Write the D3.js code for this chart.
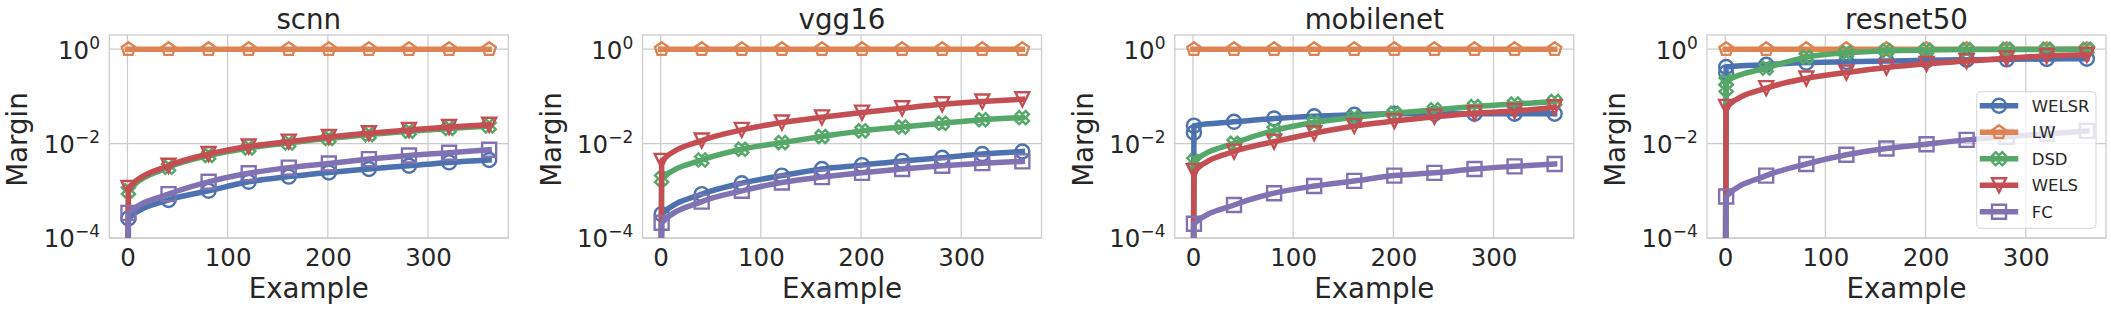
<!DOCTYPE html>
<html><head><meta charset="utf-8">
<script src="https://cdn.jsdelivr.net/npm/d3@7"></script>
<style>
body{margin:0;background:#fff;}
svg{display:block;}
</style>
</head><body>
<svg id="c" width="2111" height="311"></svg>
<script>
// ---------------- data ----------------
const panels = ["scnn", "vgg16", "mobilenet", "resnet50"];
const seriesNames = ["WELSR", "LW", "DSD", "WELS", "FC"];
const colors = ["#4C72B0", "#DD8452", "#55A868", "#C44E52", "#8172B3"];
const markerShapes = ["circle", "pentagon", "xfilled", "triangleDown", "square"];
const examples = [1, 41, 81, 121, 161, 201, 241, 281, 321, 361];
const xTicks = [0, 100, 200, 300];
const yTicks = [1, 1e-2, 1e-4];
const yTickExp = ["0", "\u22122", "\u22124"];

// scnn
const scnnWELSR = [2.6e-4, 6.4e-4, 1.0e-3, 1.55e-3, 2.0e-3, 2.45e-3, 2.9e-3, 3.4e-3, 4.0e-3, 4.5e-3];
const scnnLW    = [1, 1, 1, 1, 1, 1, 1, 1, 1, 1];
const scnnDSD   = [1.0e-3, 3.15e-3, 5.6e-3, 8.1e-3, 0.0103, 0.0129, 0.0155, 0.0183, 0.021, 0.0236];
const scnnWELS  = [1.15e-3, 3.4e-3, 6.0e-3, 8.7e-3, 0.011, 0.0138, 0.0166, 0.0195, 0.0224, 0.025];
const scnnFC    = [3.4e-4, 8.5e-4, 1.55e-3, 2.35e-3, 3.1e-3, 3.8e-3, 4.7e-3, 5.6e-3, 6.4e-3, 7.4e-3];
// vgg16
const vggWELSR = [3.2e-4, 8.5e-4, 1.45e-3, 2.1e-3, 2.9e-3, 3.5e-3, 4.3e-3, 5.0e-3, 6.0e-3, 6.8e-3];
const vggLW    = [1, 1, 1, 1, 1, 1, 1, 1, 1, 1];
const vggDSD   = [1.8e-3, 4.5e-3, 7.6e-3, 0.0105, 0.0141, 0.0186, 0.0225, 0.027, 0.032, 0.0355];
const vggWELS  = [4.3e-3, 0.0116, 0.0195, 0.0279, 0.036, 0.0454, 0.056, 0.068, 0.078, 0.087];
const vggFC    = [2.1e-4, 5.9e-4, 1.0e-3, 1.5e-3, 1.95e-3, 2.4e-3, 2.9e-3, 3.4e-3, 3.85e-3, 4.2e-3];
// mobilenet
const mobWELSR = [0.024, 0.029, 0.034, 0.038, 0.041, 0.043, 0.043, 0.043, 0.043, 0.043];
const mobLW    = [1, 1, 1, 1, 1, 1, 1, 1, 1, 1];
const mobDSD   = [4.2e-3, 0.0102, 0.019, 0.028, 0.036, 0.044, 0.052, 0.061, 0.069, 0.078];
const mobWELS  = [2.6e-3, 6.8e-3, 0.011, 0.0166, 0.0237, 0.030, 0.037, 0.044, 0.049, 0.059];
const mobFC    = [2.0e-4, 5.0e-4, 8.9e-4, 1.26e-3, 1.62e-3, 2.1e-3, 2.4e-3, 2.9e-3, 3.3e-3, 3.7e-3];
// resnet50
const resWELSR = [0.42, 0.47, 0.52, 0.54, 0.56, 0.58, 0.60, 0.61, 0.62, 0.63];
const resLW    = [1, 1, 1, 1, 1, 1, 1, 1, 1, 1];
const resDSD   = [0.21, 0.40, 0.68, 0.84, 0.93, 0.96, 0.98, 0.99, 0.99, 1.0];
const resWELS  = [0.06, 0.15, 0.24, 0.32, 0.41, 0.49, 0.56, 0.64, 0.72, 0.76];
const resFC    = [7.6e-4, 2.1e-3, 3.7e-3, 5.8e-3, 7.9e-3, 9.7e-3, 0.012, 0.014, 0.016, 0.0186];

// value of each line at example 0 (0 = margin 0, off the log axis)
const lineStart = [0, 1, 0, 0, 0];
// extra markers drawn at the first example
const extraMarkers = [
  {panel: 2, series: 0, value: 0.017},
  {panel: 3, series: 0, value: 0.32},
  {panel: 3, series: 2, value: 0.15}
];

const panelData = [
  [scnnWELSR, scnnLW, scnnDSD, scnnWELS, scnnFC],
  [vggWELSR, vggLW, vggDSD, vggWELS, vggFC],
  [mobWELSR, mobLW, mobDSD, mobWELS, mobFC],
  [resWELSR, resLW, resDSD, resWELS, resFC]
];

// ---------------- layout ----------------
const FONT = "DejaVu Sans";
const INK = "#262626";
const svg = d3.select("#c");
const lefts = [109.3, 642.5, 1174.8, 1707];
const W = 399, TOP = 35, BOTTOM = 238;
const MS = 14, MEW = 2.4, LW = 5.5;
const tickFont = 24.5, labelFont = 27.7, legendFont = 16.5;
const grid = "#cccccc";

function markerPath(shape, s) {
  const h = s / 2;
  if (shape === "circle") return `M${h},0A${h},${h} 0 1,1 ${-h},0A${h},${h} 0 1,1 ${h},0Z`;
  if (shape === "square") return `M${-h},${-h}h${s}v${s}h${-s}Z`;
  if (shape === "triangleDown") return `M0,${h}L${-h},${-h}L${h},${-h}Z`;
  if (shape === "pentagon") {
    const p = d3.range(5).map(k => {
      const a = (-90 + 72 * k) * Math.PI / 180;
      return [h * Math.cos(a), h * Math.sin(a)];
    });
    return "M" + p.map(q => q.join(",")).join("L") + "Z";
  }
  if (shape === "xfilled") {
    const base = [[-1,-3],[1,-3],[1,-1],[3,-1],[3,1],[1,1],[1,3],[-1,3],[-1,1],[-3,1],[-3,-1],[-1,-1]];
    const c = Math.cos(Math.PI / 4), sn = Math.sin(Math.PI / 4);
    const p = base.map(([a, b]) => {
      const xx = a / 6 * s, yy = b / 6 * s;
      return [xx * c - yy * sn, xx * sn + yy * c];
    });
    return "M" + p.map(q => q.join(",")).join("L") + "Z";
  }
}

const defs = svg.append("defs");

panels.forEach((name, pi) => {
  const L = lefts[pi];
  const x = d3.scaleLinear().domain([-18.1, 380.1]).range([L, L + W]);
  const y = d3.scaleLog().domain([1e-4, 2]).range([BOTTOM, TOP]);
  const g = svg.append("g");

  const cid = "clip" + pi;
  defs.append("clipPath").attr("id", cid).append("rect")
    .attr("x", L).attr("y", TOP).attr("width", W).attr("height", BOTTOM - TOP);

  // grid
  g.append("g").selectAll("line").data(xTicks).join("line")
    .attr("x1", d => x(d)).attr("x2", d => x(d)).attr("y1", TOP).attr("y2", BOTTOM)
    .attr("stroke", grid).attr("stroke-width", 1.25);
  g.append("g").selectAll("line").data(yTicks).join("line")
    .attr("x1", L).attr("x2", L + W).attr("y1", d => y(d)).attr("y2", d => y(d))
    .attr("stroke", grid).attr("stroke-width", 1.25);

  // x axis
  const xa = g.append("g").attr("transform", `translate(0,${BOTTOM})`)
    .call(d3.axisBottom(x).tickValues(xTicks).tickSize(0).tickPadding(10.6).tickFormat(d3.format("d")));
  xa.attr("font-family", FONT);
  xa.select(".domain").remove();
  xa.selectAll("text").attr("font-size", tickFont).attr("fill", INK).attr("font-family", FONT);

  // y axis
  const ya = g.append("g").attr("transform", `translate(${L},0)`)
    .call(d3.axisLeft(y).tickValues(yTicks).tickSize(0).tickPadding(9.3).tickFormat(() => ""));
  ya.attr("font-family", FONT);
  ya.select(".domain").remove();
  ya.selectAll(".tick text").each(function(d, i) {
    const t = d3.select(this).attr("font-size", tickFont).attr("fill", INK)
      .attr("font-family", FONT).attr("dy", "0.36em");
    t.append("tspan").text("10");
    t.append("tspan").attr("font-size", 17).attr("dy", -10).text(yTickExp[i]);
  });

  // frame
  g.append("rect").attr("x", L).attr("y", TOP).attr("width", W).attr("height", BOTTOM - TOP)
    .attr("fill", "none").attr("stroke", grid).attr("stroke-width", 1.25);

  // series
  const plot = g.append("g").attr("clip-path", `url(#${cid})`);
  const line = d3.line().x(d => x(d[0])).y(d => y(Math.max(d[1], 1e-7))).curve(d3.curveMonotoneX);
  panelData[pi].forEach((vals, si) => {
    const pts = [[0, lineStart[si] === 0 ? 1e-7 : lineStart[si] * vals[0]]]
      .concat(examples.map((e, k) => [e, vals[k]]));
    plot.append("path").attr("d", line(pts)).attr("fill", "none")
      .attr("stroke", colors[si]).attr("stroke-width", LW)
      .attr("stroke-linejoin", "round").attr("stroke-linecap", "square");
    const mk = examples.map((e, k) => [e, vals[k]]);
    extraMarkers.filter(m => m.panel === pi && m.series === si).forEach(m => mk.push([examples[0], m.value]));
    plot.append("g").selectAll("path").data(mk).join("path")
      .attr("d", markerPath(markerShapes[si], MS))
      .attr("transform", d => `translate(${x(d[0])},${y(d[1])})`)
      .attr("fill", "none").attr("stroke", colors[si]).attr("stroke-width", MEW);
  });

  // labels
  const txt = (sel) => sel.attr("font-family", FONT).attr("fill", INK).attr("font-size", labelFont)
    .attr("text-anchor", "middle");
  g.append("text").attr("x", (L + L + W) / 2).attr("y", 29).call(txt).text(name);
  g.append("text").attr("x", (L + L + W) / 2).attr("y", 298).call(txt).text("Example");
  g.append("text").attr("transform", `translate(${L - 82},${(TOP + BOTTOM) / 2 + 3}) rotate(-90)`)
    .call(txt).text("Margin");

  // legend in last panel
  if (pi === panels.length - 1) {
    const lg = svg.append("g");
    const lx = 1976.7, ly = 91.7, lw = 119.3, lh = 136.6;
    lg.append("rect").attr("x", lx).attr("y", ly).attr("width", lw).attr("height", lh)
      .attr("rx", 4).attr("fill", "#fff").attr("fill-opacity", 0.8)
      .attr("stroke", grid).attr("stroke-opacity", 0.8).attr("stroke-width", 1);
    seriesNames.forEach((s, i) => {
      const cy = 105.7 + i * 26.5;
      lg.append("line").attr("x1", 1982.5).attr("x2", 2015.5).attr("y1", cy).attr("y2", cy)
        .attr("stroke", colors[i]).attr("stroke-width", LW).attr("stroke-linecap", "square");
      lg.append("path").attr("d", markerPath(markerShapes[i], MS))
        .attr("transform", `translate(1999,${cy})`)
        .attr("fill", "none").attr("stroke", colors[i]).attr("stroke-width", MEW);
      lg.append("text").attr("x", 2031.7).attr("y", cy + 6).attr("font-size", legendFont)
        .attr("font-family", FONT).attr("fill", INK).text(s);
    });
  }
});
</script>
</body></html>
